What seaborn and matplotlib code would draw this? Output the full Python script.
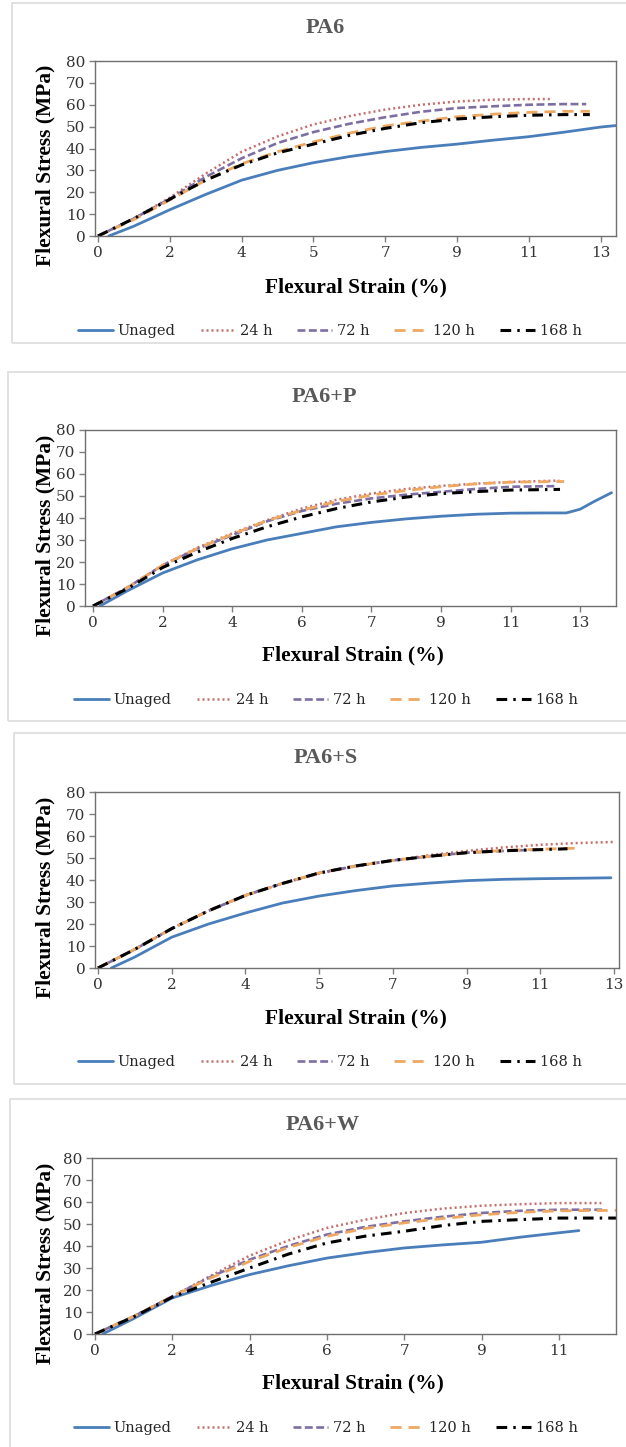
import seaborn as sns
import matplotlib.pyplot as plt
import numpy as np
import pandas as pd
from matplotlib.lines import Line2D
from matplotlib.patches import Rectangle

# ---- data (x = position along the category axis, in tick steps) ----
series_names = ['Unaged', '24 h', '72 h', '120 h', '168 h']

step = [0, 0.5, 1, 1.5, 2, 2.5, 3, 3.5, 4, 4.5, 5, 5.5, 6]

# PA6
pa6_x = {
    'Unaged': [0.15, 0.5, 1, 1.5, 2, 2.5, 3, 3.5, 4, 4.5, 5, 5.5, 6, 6.5, 7, 7.25],
    '24 h': step[:-1] + [6, 6.3],
    '72 h': step + [6.5, 6.8],
    '120 h': step + [6.5, 6.85],
    '168 h': step + [6.5, 6.85],
}
pa6_y = {
    'Unaged': [0, 4.5, 12, 19, 25.5, 30, 33.5, 36.3, 38.6, 40.5, 42, 43.8, 45.4, 47.5, 49.8, 50.6],
    '24 h': [0, 8, 17.5, 28.5, 38.5, 45.5, 51, 54.8, 57.8, 60, 61.5, 62.3, 62.6, 62.6],
    '72 h': [0, 8, 17, 27, 35.5, 42.5, 47.5, 51.3, 54.3, 56.8, 58.5, 59.3, 60, 60.3, 60.3],
    '120 h': [0, 7.5, 16.5, 25.5, 33, 38.5, 43, 47, 50.3, 52.5, 54.5, 55.7, 56.5, 57, 57],
    '168 h': [0, 8, 16.8, 25.5, 32.5, 38, 42, 46, 49.2, 51.8, 53.5, 54.5, 55.2, 55.5, 55.5],
}

# PA6+P
pa6p_x = {
    'Unaged': [0.1, 0.5, 1, 1.5, 2, 2.5, 3, 3.5, 4, 4.5, 5, 5.5, 6, 6.5, 6.8, 7, 7.2, 7.45],
    '24 h': step + [6.7],
    '72 h': step + [6.65],
    '120 h': step + [6.77],
    '168 h': step + [6.71],
}
pa6p_y = {
    'Unaged': [0, 7, 15, 21, 26, 30, 33, 36, 38, 39.6, 40.8, 41.7, 42.2, 42.3, 42.3, 44, 47.5, 51.5],
    '24 h': [0, 8.5, 18.5, 26.5, 33, 39, 44.3, 48.3, 51.1, 53.2, 54.6, 55.6, 56.4, 57],
    '72 h': [0, 8.5, 18.5, 26, 32.2, 38.5, 43.2, 46.5, 48.9, 50.6, 51.9, 53.2, 54.2, 54.5],
    '120 h': [0, 8.5, 18.5, 26.2, 32.6, 38.8, 43.5, 47.5, 50.4, 52.5, 54.2, 55.5, 56.3, 56.6],
    '168 h': [0, 8, 17.5, 24.5, 30.7, 36, 40.5, 44.3, 47.3, 49.5, 51.1, 52, 52.7, 53],
}

# PA6+S
pa6s_x = {
    'Unaged': [0.18, 0.5, 1, 1.5, 2, 2.5, 3, 3.5, 4, 4.5, 5, 5.5, 6, 6.5, 6.96],
    '24 h': step + [6.5, 7.0],
    '72 h': step[:-1] + [5.96],
    '120 h': step + [6.53],
    '168 h': step + [6.37],
}
pa6s_y = {
    'Unaged': [0, 5, 14, 20, 25, 29.5, 32.7, 35.2, 37.3, 38.6, 39.7, 40.3, 40.6, 40.8, 41],
    '24 h': [0, 8.5, 17.9, 26, 33, 38.5, 42.9, 46.2, 48.9, 51.3, 53.2, 54.8, 56, 56.8, 57.3],
    '72 h': [0, 8.5, 17.9, 26, 33, 38.4, 43.2, 46.4, 48.9, 50.8, 52.4, 53.2, 53.8],
    '120 h': [0, 8.5, 17.9, 26, 33, 38.4, 43.2, 46.4, 48.9, 50.8, 52.4, 53.4, 54, 54.5],
    '168 h': [0, 8.5, 17.9, 26, 33, 38.4, 43.2, 46.4, 48.9, 50.8, 52.4, 53.3, 53.8, 54.2],
}

# PA6+W
pa6w_x = {
    'Unaged': [0.1, 0.5, 1, 1.5, 2, 2.5, 3, 3.5, 4, 4.5, 5, 5.5, 6, 6.26],
    '24 h': step + [6.55],
    '72 h': step + [6.6],
    '120 h': step + [6.75],
    '168 h': step + [6.75],
}
pa6w_y = {
    'Unaged': [0, 7, 16.4, 22, 27, 31, 34.5, 37, 39.1, 40.5, 41.7, 44, 46, 47],
    '24 h': [0, 8, 17.1, 26.5, 35.6, 42.5, 48.2, 52, 55, 57, 58.3, 59, 59.5, 59.5],
    '72 h': [0, 8, 17.1, 26, 33.8, 40, 45.2, 48.7, 51.2, 53.3, 55, 56, 56.5, 56.5],
    '120 h': [0, 8, 17.1, 25.5, 33, 39.3, 44.4, 48, 50.5, 52.5, 54.2, 55.3, 56, 56.2],
    '168 h': [0, 7.8, 16.8, 23.5, 30, 36.3, 41.4, 44.5, 46.7, 49.3, 51.2, 52, 52.7, 52.7],
}

tick_labels_a = ['0', '2', '4', '5', '7', '9', '11', '13']
tick_labels_b = ['0', '2', '4', '6', '7', '9', '11', '13']
tick_labels_c = ['0', '2', '4', '6', '7', '9', '11']

# ---- styles ----
styles = {
    'Unaged': dict(color='#4a7ebb', linestyle='-', linewidth=2.0),
    '24 h': dict(color='#c46f6d', linestyle=(0, (0.8, 1.2)), linewidth=1.8),
    '72 h': dict(color='#7d6ea3', linestyle=(0, (3, 1.3)), linewidth=1.9),
    '120 h': dict(color='#eea862', linestyle=(0, (4, 2.5)), linewidth=2.0),
    '168 h': dict(color='black', linestyle=(0, (3.5, 2, 0.8, 2)), linewidth=2.2),
}

sns.set_style('white')
plt.rcParams['font.family'] = ['DejaVu Serif', 'Liberation Serif']
label_font = ['Liberation Serif', 'DejaVu Serif']

W, H = 626, 1447
fig = plt.figure(figsize=(W / 100, H / 100), dpi=100)


def fx(px):
    return px / W


def fy(py):
    return 1 - py / H


# panel geometry in pixels
panels = [
    dict(title='PA6', xs=pa6_x, ys=pa6_y, ticks=tick_labels_a,
         ax=(95, 61, 616, 236), zero=98, spacing=71.8,
         title_xy=(325, 28), xlabel_xy=(356, 287), ylabel_y=165, legend_xy=(330, 331),
         box=(12, 3, 640, 343)),
    dict(title='PA6+P', xs=pa6p_x, ys=pa6p_y, ticks=tick_labels_b,
         ax=(85, 430, 616, 606), zero=93, spacing=69.6,
         title_xy=(324, 397), xlabel_xy=(353, 655), ylabel_y=535, legend_xy=(326, 700),
         box=(8, 372, 640, 721)),
    dict(title='PA6+S', xs=pa6s_x, ys=pa6s_y, ticks=tick_labels_a,
         ax=(95, 792, 619, 968), zero=98, spacing=73.7,
         title_xy=(326, 758), xlabel_xy=(356, 1018), ylabel_y=897, legend_xy=(330, 1062),
         box=(14, 733, 640, 1084)),
    dict(title='PA6+W', xs=pa6w_x, ys=pa6w_y, ticks=tick_labels_c,
         ax=(92, 1158, 616, 1334), zero=95, spacing=77.3,
         title_xy=(323, 1125), xlabel_xy=(353, 1383), ylabel_y=1263, legend_xy=(326, 1428),
         box=(10, 1099, 640, 1460)),
]

for p in panels:
    # light frame around each chart
    bx0, by0, bx1, by1 = p['box']
    fig.patches.append(Rectangle((fx(bx0), fy(by1)), fx(bx1 - bx0), (by1 - by0) / H,
                                 transform=fig.transFigure, fill=False,
                                 edgecolor='#dcdcdc', linewidth=1.2))

    l, t, r, b = p['ax']
    ax = fig.add_axes([fx(l), fy(b), fx(r - l), (b - t) / H])

    for name in series_names:
        df = pd.DataFrame({'x': p['xs'][name], 'y': p['ys'][name]})
        sns.lineplot(data=df, x='x', y='y', ax=ax, estimator=None, sort=False,
                     legend=False, **styles[name])

    x0 = (l - p['zero']) / p['spacing']
    x1 = (r - p['zero']) / p['spacing']
    ax.set_xlim(x0, x1)
    ax.set_ylim(0, 80)
    ax.set_xticks(range(len(p['ticks'])))
    ax.set_xticklabels(p['ticks'])
    ax.set_yticks(range(0, 81, 10))
    ax.tick_params(axis='both', labelsize=11, labelcolor='#333333', length=4,
                   width=1, direction='out', pad=3, left=True, bottom=True,
                   color='#7f7f7f')
    for s in ax.spines.values():
        s.set_color('#6f6f6f')
        s.set_linewidth(1.0)

    ax.set_xlabel('Flexural Strain (%)', fontsize=15.5, fontweight='bold',
                  color='black', family=label_font, va='center', ha='center')
    ax.set_ylabel('Flexural Stress (MPa)', fontsize=15.5, fontweight='bold',
                  color='black', family=label_font, va='center', ha='center')
    lx, ly = p['xlabel_xy']
    ax.xaxis.set_label_coords((lx - l) / (r - l), (b - ly) / (b - t))
    ax.yaxis.set_label_coords((45 - l) / (r - l), (b - p['ylabel_y']) / (b - t))

    tx, ty = p['title_xy']
    fig.text(fx(tx), fy(ty), p['title'], ha='center', va='center',
             fontsize=16, fontweight='bold', color='#595959', family=label_font)

    handles = [Line2D([], [], **styles[n]) for n in series_names]
    gx, gy = p['legend_xy']
    fig.legend(handles, series_names, loc='center', bbox_to_anchor=(fx(gx), fy(gy)),
               ncol=5, frameon=False, fontsize=10.5, handlelength=2.4,
               handletextpad=0.3, columnspacing=1.7, labelcolor='#262626')

fig.savefig('out.png', dpi=100, facecolor='white')
